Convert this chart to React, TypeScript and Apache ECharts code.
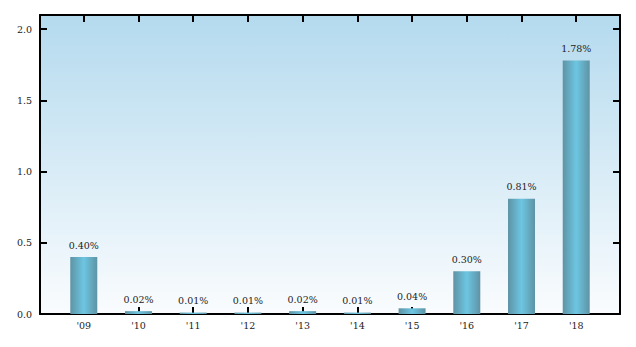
import React, { useEffect, useRef } from "react";
import * as echarts from "echarts";

const categories = ["'09", "'10", "'11", "'12", "'13", "'14", "'15", "'16", "'17", "'18"];
const values = [0.4, 0.02, 0.01, 0.01, 0.02, 0.01, 0.04, 0.3, 0.81, 1.78];
const yTicks = [0, 0.5, 1.0, 1.5, 2.0];

export default function App() {
  const ref = useRef<HTMLDivElement>(null);
  useEffect(() => {
    const chart = echarts.init(ref.current!, null, { renderer: "svg" });
    const idx = categories.map((_, i) => i);
    const font = "'DejaVu Serif', serif";
    const barColor = new echarts.graphic.LinearGradient(0, 0, 1, 0, [
      { offset: 0, color: "#5e93a4" },
      { offset: 0.5, color: "#6dc6e2" },
      { offset: 1, color: "#5e93a4" },
    ]);
    const axisLine = { show: true, onZero: false, lineStyle: { color: "#000", width: 2 } };
    const tick = (vals: number[]) => ({
      show: true,
      inside: true,
      length: 7,
      customValues: vals,
      lineStyle: { color: "#000", width: 2 },
    });
    chart.setOption({
      animation: false,
      grid: {
        left: 32,
        right: 8,
        top: 7,
        bottom: 25,
        show: true,
        borderWidth: 0,
        backgroundColor: new echarts.graphic.LinearGradient(0, 0, 0, 1, [
          { offset: 0, color: "#b4daee" },
          { offset: 1, color: "#fafcfe" },
        ]),
      },
      xAxis: [
        {
          type: "value",
          min: -0.8,
          max: 9.8,
          position: "bottom",
          splitLine: { show: false },
          axisLine,
          axisTick: tick(idx),
          axisLabel: {
            customValues: idx,
            formatter: (v: number) => categories[Math.round(v)] ?? "",
            fontFamily: font,
            fontSize: 9.5,
            color: "#222",
            margin: 6,
          },
        },
        {
          type: "value",
          min: -0.8,
          max: 9.8,
          position: "top",
          splitLine: { show: false },
          axisLine,
          axisTick: tick(idx),
          axisLabel: { show: false },
        },
      ],
      yAxis: [
        {
          type: "value",
          min: 0,
          max: 2.1,
          position: "left",
          splitLine: { show: false },
          axisLine,
          axisTick: tick(yTicks),
          axisLabel: {
            customValues: yTicks,
            formatter: (v: number) => v.toFixed(1),
            fontFamily: font,
            fontSize: 9.5,
            color: "#222",
            margin: 8,
          },
        },
        {
          type: "value",
          min: 0,
          max: 2.1,
          position: "right",
          splitLine: { show: false },
          axisLine,
          axisTick: tick(yTicks),
          axisLabel: { show: false },
        },
      ],
      series: [
        {
          type: "bar",
          xAxisIndex: 0,
          yAxisIndex: 0,
          barWidth: 27,
          data: values.map((v, i) => [i, v]),
          itemStyle: { color: barColor },
          label: {
            show: true,
            position: "top",
            distance: 7,
            formatter: (p: any) => p.value[1].toFixed(2) + "%",
            fontFamily: font,
            fontSize: 9.5,
            color: "#222",
          },
        },
      ],
    });
    return () => chart.dispose();
  }, []);
  return <div ref={ref} style={{ width: 620, height: 331 }} />;
}
